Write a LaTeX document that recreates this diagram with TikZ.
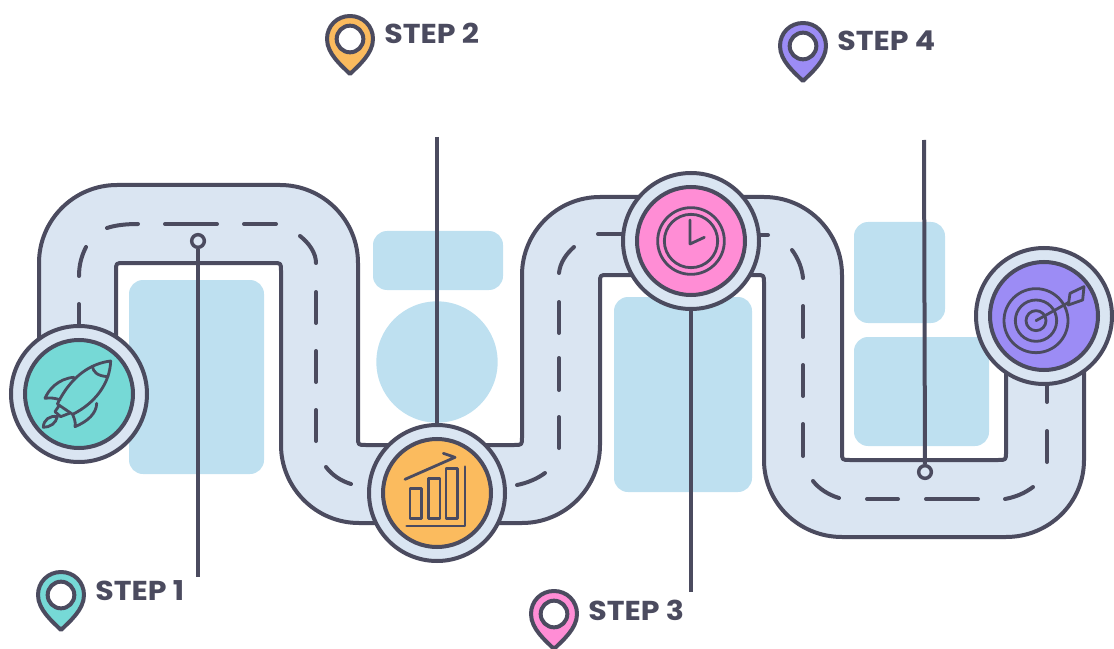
\documentclass[tikz,border=0pt]{standalone}
\usepackage{fontspec}
\setmainfont{Poppins}
\newfontfamily\steplabelfont[FakeStretch=1.1]{Poppins}
\definecolor{ink}{HTML}{4B4B5F}
\definecolor{roadc}{HTML}{DAE5F2}
\definecolor{boxc}{HTML}{BEE0F0}
\definecolor{tealc}{HTML}{76D9D6}
\definecolor{orangec}{HTML}{FBBB5E}
\definecolor{pinkc}{HTML}{FF8DD5}
\definecolor{purplec}{HTML}{9C8CF5}
\tikzset{
  line/.style={draw=ink,line width=3pt},
  dashseg/.style={draw=ink,line width=3pt,line cap=round},
  icon/.style={draw=ink,line width=2.1pt,line join=round,line cap=round},
  bluebox/.style={fill=boxc,rounded corners=10.5pt},
  ring/.style={circle,draw=ink,line width=3pt,fill=roadc,minimum size=102pt,inner sep=0pt},
  disc/.style={circle,draw=ink,line width=3pt,minimum size=81pt,inner sep=0pt},
  marker/.style={circle,draw=ink,line width=2.6pt,fill=roadc,minimum size=9.5pt,inner sep=0pt},
  steplabel/.style={anchor=base west,inner sep=0pt,text=ink,font=\steplabelfont\fontsize{20.5pt}{22pt}\selectfont\bfseries},
  pinhole/.style={circle,draw=ink,line width=3pt,fill=white,minimum size=20pt,inner sep=0pt},
  pinshape/.pic={
    \path[draw=ink,line width=3pt,line join=round,pic actions]
      (0,35) .. controls (-8,27) and (-23,15) .. (-23,0)
      .. controls (-23,-13) and (-13,-23) .. (0,-23)
      .. controls (13,-23) and (23,-13) .. (23,0)
      .. controls (23,15) and (8,27) .. (0,35) -- cycle;
  }
}
\begin{document}
\begin{tikzpicture}[x=.75pt,y=-.75pt]
\useasboundingbox (0,0) rectangle (1114,649);
% pale blocks
\fill[bluebox] (129,280) rectangle (264,474);
\fill[bluebox] (373,231) rectangle (503,290);
\fill[boxc] (437,362) circle[radius=45.5pt];
\fill[bluebox] (614,297) rectangle (752,492);
\fill[bluebox] (854,222) rectangle (945,323);
\fill[bluebox] (854,337) rectangle (989,446);
% road
\path[fill=roadc,draw=ink,line width=3pt,line join=round]
 (39,400) -- (39,263) .. controls (39,220) and (74,185) .. (117,185) -- (280,185)
 .. controls (323,185) and (358,220) .. (358,263) -- (358,437) .. controls (358,445) .. (366,445)
 -- (514,445) .. controls (522,445) .. (522,437) -- (522,275)
 .. controls (522,232) and (557,197) .. (600,197) -- (764,197)
 .. controls (807,197) and (842,232) .. (842,275) -- (842,452) .. controls (842,460) .. (850,460)
 -- (998,460) .. controls (1006,460) .. (1006,452) -- (1006,330)
 -- (1084,330) -- (1084,460) .. controls (1084,503) and (1049,537) .. (1006,537)
 -- (842,537) .. controls (799,537) and (764,503) .. (764,460) -- (764,283)
 .. controls (764,275) .. (756,275) -- (608,275) .. controls (600,275) .. (600,283)
 -- (600,445) .. controls (600,488) and (565,523) .. (522,523) -- (359,523)
 .. controls (316,523) and (281,488) .. (281,445) -- (281,271) .. controls (281,263) .. (273,263)
 -- (124,263) .. controls (116,263) .. (116,271) -- (116,400) -- cycle;
% centre dashes
\draw[dashseg] (79,304) -- (79,335);
\draw[dashseg] (79,276) .. controls (79,264) and (82,255) .. (86,247);
\draw[dashseg] (107,228) .. controls (116,225) and (127,224) .. (138,224);
\draw[dashseg] (165,224) -- (217,224);
\draw[dashseg] (244,224) -- (276,224);
\draw[dashseg] (300,236) .. controls (309,243) and (316,253) .. (316,263);
\draw[dashseg] (316,292) -- (316,323);
\draw[dashseg] (316,351) -- (316,382);
\draw[dashseg] (316,410) -- (316,441);
\draw[dashseg] (326,467) .. controls (332,475) and (341,481) .. (351,484);
\draw[dashseg] (545,473) .. controls (537,479) and (527,483) .. (517,485);
\draw[dashseg] (559,417) -- (559,448);
\draw[dashseg] (559,358) -- (559,390);
\draw[dashseg] (559,302) -- (559,333);
\draw[dashseg] (574,247) .. controls (566,254) and (560,263) .. (559,273);
\draw[dashseg] (598,234) -- (640,234);
\draw[dashseg] (745,235) -- (768,235);
\draw[dashseg] (792,250) .. controls (798,258) and (802,268) .. (803,278);
\draw[dashseg] (803,306) -- (803,337);
\draw[dashseg] (803,365) -- (803,396);
\draw[dashseg] (803,424) -- (803,456);
\draw[dashseg] (813,481) .. controls (819,489) and (829,495) .. (839,498);
\draw[dashseg] (867,499) -- (898,499);
\draw[dashseg] (926,499) -- (978,499);
\draw[dashseg] (1005,499) .. controls (1016,497) and (1025,493) .. (1033,487);
\draw[dashseg] (1047,431) -- (1047,462);
\draw[dashseg] (1047,370) -- (1047,402);
% stops
\node[ring] (r1) at (79,394) {};
\node[disc,fill=tealc] (d1) at (r1) {};
\node[ring] (r2) at (437,493) {};
\node[disc,fill=orangec] (d2) at (r2) {};
\node[ring] (r3) at (691,241) {};
\node[disc,fill=pinkc] (d3) at (r3) {};
\node[ring] (r4) at (1044,316) {};
\node[disc,fill=purplec] (d4) at (r4) {};
% leader lines
\node[marker] (m1) at (198,241) {};
\node[marker] (m4) at (925,472) {};
\coordinate (e1) at (198,577);
\coordinate (e2) at (437,137);
\coordinate (e3) at (691,592);
\coordinate (e4) at (924,140);
\draw[line] (m1) -- (e1);
\draw[line] (e2) -- (r2);
\draw[line] (r3) -- (e3);
\draw[line] (e4) -- (m4);
% rocket
\begin{scope}[x=.25pt,y=-.25pt,shift={(0,960)}]
\draw[icon] (332,123) .. controls (275,130) and (215,165) .. (172,252) -- (218,283)
  .. controls (285,250) and (330,190) .. (332,123) -- cycle;
\draw[icon] (277,139) .. controls (280,155) and (290,168) .. (324,170);
\draw[icon] (222,172) .. controls (175,175) and (145,210) .. (135,235) .. controls (150,232) and (170,235) .. (180,240);
\draw[icon] (290,250) .. controls (290,280) and (262,305) .. (225,320) .. controls (228,305) and (222,295) .. (218,283);
\draw[icon] (178,256) -- (165,275) -- (182,290) -- (208,280);
\draw[icon] (130,322) .. controls (130,300) and (150,285) .. (172,290) .. controls (168,310) and (150,322) .. (130,322) -- cycle;
\end{scope}
% chart
\begin{scope}[x=.25pt,y=-.25pt,shift={(1050,1200)}]
\draw[icon] (345,200) -- (345,378) -- (170,378);
\draw[icon] (180,265) rectangle (215,355);
\draw[icon] (235,235) rectangle (270,355);
\draw[icon] (288,205) rectangle (323,355);
\draw[icon] (165,238) -- (315,172) -- (280,160);
\end{scope}
% clock
\begin{scope}[x=.25pt,y=-.25pt,shift={(1830,480)}]
\draw[icon] (243,243) circle[radius=25pt];
\draw[icon] (243,243) circle[radius=20pt];
\draw[icon] (240,180) -- (240,252) -- (283,232);
\end{scope}
% target
\begin{scope}[x=.25pt,y=-.25pt,shift={(2880,720)}]
\draw[icon] (228,242) circle[radius=24pt];
\draw[icon] (228,242) circle[radius=15.5pt];
\draw[icon] (228,242) circle[radius=7.5pt];
\draw[icon] (228,242) -- (330,185);
\draw[icon,fill=purplec] (330,160) -- (372,140) -- (368,180) -- (325,195) -- cycle;
\end{scope}
% pins and labels
\pic[fill=tealc] at (61,595) {pinshape};
\node[pinhole] (p1) at (61,595) {};
\node[steplabel] (t1) at (95,600) {STEP 1};
\pic[fill=orangec] at (350,39) {pinshape};
\node[pinhole] (p2) at (350,39) {};
\node[steplabel] (t2) at (384,44) {STEP 2};
\pic[fill=pinkc] at (554,614) {pinshape};
\node[pinhole] (p3) at (554,614) {};
\node[steplabel] (t3) at (588,620) {STEP 3};
\pic[fill=purplec] at (803,46) {pinshape};
\node[pinhole] (p4) at (803,46) {};
\node[steplabel] (t4) at (837,51) {STEP 4};
\end{tikzpicture}
\end{document}
